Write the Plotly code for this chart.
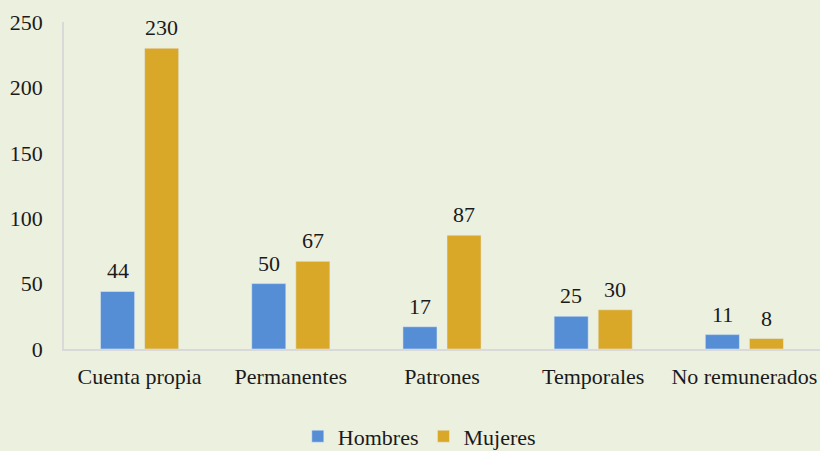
import plotly.graph_objects as go

categorias = ["Cuenta propia", "Permanentes", "Patrones", "Temporales", "No remunerados"]
hombres = [44, 50, 17, 25, 11]
mujeres = [230, 67, 87, 30, 8]

fondo = "#EBF0DF"
fuente = "Times New Roman, Liberation Serif, serif"
tam = 22
azul = "#558ED5"
oro = "#DAA828"

fig = go.Figure()
fig.add_trace(go.Bar(name="Hombres", x=categorias, y=hombres, marker_color=azul))
fig.add_trace(go.Bar(name="Mujeres", x=categorias, y=mujeres, marker_color=oro))

# value labels above each bar, slightly raised
for serie, desplaz in ((hombres, -22), (mujeres, 22)):
    for cat, v in zip(categorias, serie):
        fig.add_annotation(x=cat, y=v, text=str(v), showarrow=False,
                           xshift=desplaz, yshift=6, yanchor="bottom",
                           font=dict(family=fuente, size=tam, color="#1a1a1a"))

fig.update_layout(
    width=820, height=451,
    paper_bgcolor=fondo, plot_bgcolor=fondo,
    margin=dict(l=64, r=0, t=22, b=102, autoexpand=False),
    barmode="group", bargap=0.417, bargroupgap=0.227,
    font=dict(family=fuente, size=tam, color="#1a1a1a"),
    showlegend=True,
    legend=dict(orientation="h", x=0.47, xanchor="center", y=-0.203, yanchor="top",
                font=dict(size=tam, family=fuente), itemwidth=30, traceorder="normal"),
    xaxis=dict(showline=True, linecolor="#D9D9D9", linewidth=1.5, ticks="outside",
               ticklen=7, tickcolor="rgba(0,0,0,0)", showgrid=False,
               tickfont=dict(family=fuente, size=tam), automargin=False),
    yaxis=dict(range=[0, 250], dtick=50, showline=True, linecolor="#D9D9D9", linewidth=1.5,
               showgrid=False, zeroline=False, ticks="outside", ticklen=15,
               tickcolor="rgba(0,0,0,0)", tickfont=dict(family=fuente, size=tam),
               automargin=False),
)

fig.write_html("out.html")
